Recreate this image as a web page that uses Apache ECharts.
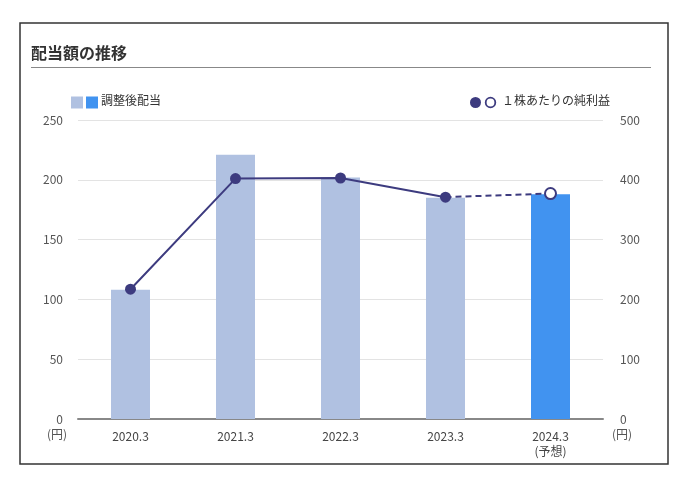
<!DOCTYPE html>
<html><head><meta charset="utf-8">
<script src="https://cdn.jsdelivr.net/npm/echarts@6/dist/echarts.min.js"></script>
<style>html,body{margin:0;padding:0;background:#fff;}#c{width:694px;height:485px;}</style>
</head><body><div id="c"></div>
<script>
const categories = ['2020.3', '2021.3', '2022.3', '2023.3', '2024.3\n(予想)'];
const dividends = [108, 221, 202, 185, 188];
const eps = [217, 402, 403, 371, 377];
const leftTicks = [0, 50, 100, 150, 200, 250];
const rightTicks = [0, 100, 200, 300, 400, 500];
const title = '配当額の推移';
const barLegend = '調整後配当';
const lineLegend = '１株あたりの純利益';
const forecastIndex = 4;

const NAVY = '#3d3b7f';
const BAR = '#b0c1e1';
const BAR_HI = '#4193f0';
const FONT = '"Noto Sans CJK JP", "Noto Sans", sans-serif';

const chart = echarts.init(document.getElementById('c'), null, {renderer: 'canvas'});

const barData = dividends.map((v, i) => i === forecastIndex ? {value: v, itemStyle: {color: BAR_HI}} : v);
const solidData = eps.map((v, i) => i < forecastIndex ? v : '-');
const dashedData = eps.map((v, i) => i >= forecastIndex - 1 ? (i === forecastIndex - 1 ? {value: v, symbolSize: 0} : v) : '-');

chart.setOption({
  animation: false,
  textStyle: {fontFamily: FONT},
  grid: {left: 78, right: 91, top: 120, bottom: 66},
  xAxis: {
    type: 'category', data: categories,
    axisLine: {lineStyle: {color: '#888', width: 2}},
    axisTick: {show: false},
    axisLabel: {color: '#444', fontSize: 12, margin: 10, lineHeight: 15, fontFamily: FONT}
  },
  yAxis: [{
    type: 'value', min: leftTicks[0], max: leftTicks[leftTicks.length - 1], interval: 50,
    axisLine: {show: false}, axisTick: {show: false},
    axisLabel: {color: '#555', fontSize: 12, margin: 15, fontFamily: FONT},
    splitLine: {lineStyle: {color: '#e3e3e3', width: 1}}
  }, {
    type: 'value', min: rightTicks[0], max: rightTicks[rightTicks.length - 1], interval: 100,
    axisLine: {show: false}, axisTick: {show: false},
    axisLabel: {color: '#555', fontSize: 12, margin: 17, fontFamily: FONT},
    splitLine: {show: false}
  }],
  series: [{
    type: 'bar', data: barData, barWidth: 39, yAxisIndex: 0,
    itemStyle: {color: BAR}, z: 2
  }, {
    type: 'line', data: dashedData, yAxisIndex: 1, z: 3,
    symbol: 'circle', symbolSize: 11,
    lineStyle: {color: NAVY, width: 2, type: [6, 4]},
    itemStyle: {color: '#fff', borderColor: NAVY, borderWidth: 2}
  }, {
    type: 'line', data: solidData, yAxisIndex: 1, z: 4,
    symbol: 'circle', symbolSize: 11,
    lineStyle: {color: NAVY, width: 2},
    itemStyle: {color: NAVY}
  }],
  graphic: [
    {type: 'rect', shape: {x: 20, y: 23, width: 648, height: 441}, style: {fill: 'none', stroke: '#333', lineWidth: 1.5}, silent: true},
    {type: 'text', left: 31, top: 45, style: {text: title, fill: '#333', font: 'bold 16px ' + FONT}},
    {type: 'line', shape: {x1: 31, y1: 67.5, x2: 651, y2: 67.5}, style: {stroke: '#888', lineWidth: 1}},
    {type: 'rect', shape: {x: 71, y: 96.5, width: 12, height: 12}, style: {fill: BAR}},
    {type: 'rect', shape: {x: 86, y: 96.5, width: 12, height: 12}, style: {fill: BAR_HI}},
    {type: 'text', left: 101, top: 94, style: {text: barLegend, fill: '#333', font: '12px ' + FONT}},
    {type: 'circle', shape: {cx: 475.5, cy: 102.5, r: 5.5}, style: {fill: NAVY}},
    {type: 'circle', shape: {cx: 490.5, cy: 102.5, r: 4.8}, style: {fill: '#fff', stroke: NAVY, lineWidth: 1.8}},
    {type: 'text', left: 502, top: 94, style: {text: lineLegend, fill: '#333', font: '12px ' + FONT}},
    {type: 'text', left: 47, top: 428, style: {text: '(円)', fill: '#555', font: '12px ' + FONT}},
    {type: 'text', left: 612, top: 428, style: {text: '(円)', fill: '#555', font: '12px ' + FONT}}
  ]
});
</script></body></html>
